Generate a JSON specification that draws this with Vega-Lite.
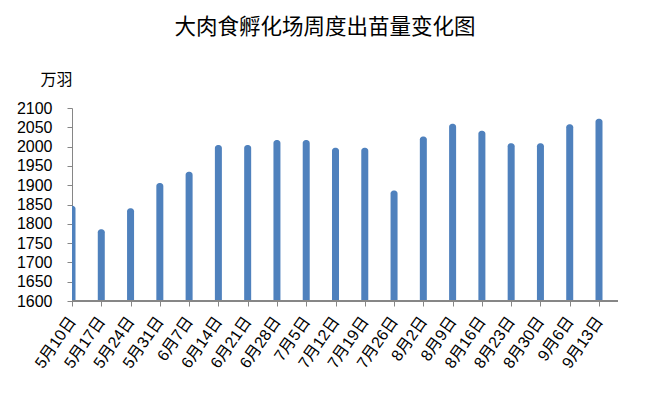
{
  "$schema": "https://vega.github.io/schema/vega-lite/v6.json",
  "autosize": {"type": "none"},
  "width": 546,
  "height": 193,
  "padding": {"left": 72, "top": 108, "right": 35, "bottom": 92},
  "background": "white",
  "config": {
    "view": {"stroke": null},
    "axisY": {
      "zindex": 1,
      "titleAngle": 0,
      "titleX": -16,
      "titleY": -29,
      "titleAlign": "center",
      "titleBaseline": "middle",
      "titleFont": "Noto Sans CJK SC",
      "titleFontSize": 16,
      "titleFontWeight": "normal",
      "titleColor": "#000000",
      "format": "d",
      "labelOverlap": false,
      "grid": false,
      "domainColor": "#868686",
      "tickColor": "#868686",
      "tickSize": 5,
      "labelPadding": 15,
      "labelFont": "Liberation Sans",
      "labelFontSize": 16,
      "labelColor": "#000000"
    }
  },
  "title": {
    "text": "大肉食孵化场周度出苗量变化图",
    "font": "Noto Sans CJK SC",
    "fontSize": 21.5,
    "fontWeight": "normal",
    "color": "#000000",
    "anchor": "middle",
    "dx": -20,
    "offset": 33
  },
  "data": {
    "values": [
      {"week": "5月10日", "value": 1847},
      {"week": "5月17日", "value": 1786},
      {"week": "5月24日", "value": 1840},
      {"week": "5月31日", "value": 1906},
      {"week": "6月7日", "value": 1935},
      {"week": "6月14日", "value": 2004},
      {"week": "6月21日", "value": 2004},
      {"week": "6月28日", "value": 2017},
      {"week": "7月5日", "value": 2017},
      {"week": "7月12日", "value": 1997},
      {"week": "7月19日", "value": 1997},
      {"week": "7月26日", "value": 1886},
      {"week": "8月2日", "value": 2026},
      {"week": "8月9日", "value": 2059},
      {"week": "8月16日", "value": 2041},
      {"week": "8月23日", "value": 2009},
      {"week": "8月30日", "value": 2009},
      {"week": "9月6日", "value": 2058},
      {"week": "9月13日", "value": 2072}
    ]
  },
  "layer": [
    {
      "mark": {"type": "bar", "width": 7, "color": "#4F81BD", "cornerRadiusTopLeft": 3, "cornerRadiusTopRight": 3, "clip": true},
      "encoding": {
        "x": {
          "field": "week",
          "type": "nominal",
          "sort": null,
          "scale": {"type": "point", "padding": 0, "range": [0, 527]},
          "axis": {
            "title": null,
            "domain": false,
            "ticks": true,
            "tickColor": "#868686",
            "tickSize": 5,
            "labelAngle": -55,
            "labelAlign": "right",
            "labelBaseline": "middle",
            "labelFont": "Liberation Sans, Noto Sans CJK SC",
            "labelFontSize": 16,
            "labelColor": "#000000",
            "labelPadding": 12,
            "labelOverlap": false
          }
        },
        "y": {
          "field": "value",
          "type": "quantitative",
          "scale": {"domain": [1600, 2100], "zero": false, "nice": false},
          "axis": {
            "title": "万羽",
            "values": [1600, 1650, 1700, 1750, 1800, 1850, 1900, 1950, 2000, 2050, 2100]
          }
        },
        "y2": {"datum": 1600}
      }
    },
    {
      "mark": {"type": "rule", "color": "#868686", "strokeWidth": 1},
      "encoding": {
        "y": {
          "datum": 1600,
          "type": "quantitative",
          "axis": {
            "title": "万羽",
            "values": [1600, 1650, 1700, 1750, 1800, 1850, 1900, 1950, 2000, 2050, 2100]
          }
        }
      }
    }
  ]
}
